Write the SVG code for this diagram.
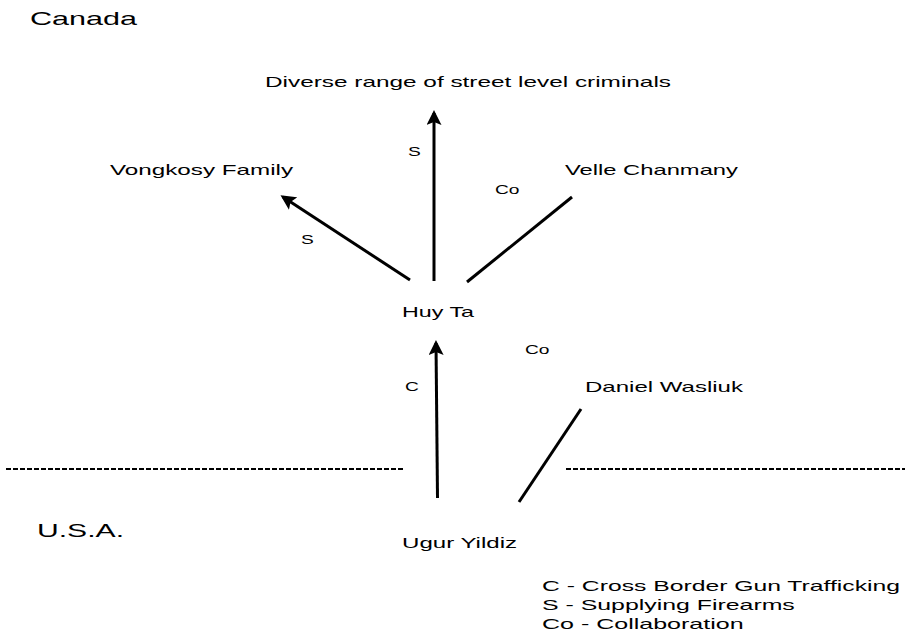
<svg xmlns="http://www.w3.org/2000/svg" width="907" height="637" viewBox="0 0 907 637">
<style>
text{font-family:"Liberation Sans",Arial,sans-serif;fill:#000}
.n{font-size:15px}
.r{font-size:19px}
.l{font-size:12px}
.e{stroke:#000;stroke-width:3;fill:none}
.d{stroke:#000;stroke-width:2;stroke-dasharray:5 2;fill:none}
</style>
<defs>
<marker id="ah" viewBox="0 0 10 10" refX="8" refY="5" markerWidth="5" markerHeight="5" markerUnits="strokeWidth" orient="auto">
<path d="M0,0 L10,5 L0,10 L2,5 Z" fill="#000"/>
</marker>
</defs>
<rect width="907" height="637" fill="#fff"/>
<g id="regions">
<text class="r" transform="translate(30,25) scale(1.6,1)" textLength="66.9" lengthAdjust="spacingAndGlyphs">Canada</text>
<text class="r" transform="translate(37,537) scale(1.6,1)" textLength="54.4" lengthAdjust="spacingAndGlyphs">U.S.A.</text>
<line class="d" x1="6" y1="469" x2="405" y2="469"/>
<line class="d" x1="566" y1="469" x2="905" y2="469"/>
</g>
<g id="connectors">
<line class="e" x1="434" y1="281" x2="434" y2="113" marker-end="url(#ah)"/>
<line class="e" x1="410" y1="280" x2="283" y2="197" marker-end="url(#ah)"/>
<line class="e" x1="467" y1="282" x2="572" y2="197"/>
<line class="e" x1="437.5" y1="498" x2="436" y2="343" marker-end="url(#ah)"/>
<line class="e" x1="519" y1="502" x2="581" y2="409"/>
<text class="l" transform="translate(408,156) scale(1.6,1)">S</text>
<text class="l" transform="translate(495,194) scale(1.6,1)">Co</text>
<text class="l" transform="translate(301,244) scale(1.6,1)">S</text>
<text class="l" transform="translate(525,354) scale(1.6,1)">Co</text>
<text class="l" transform="translate(405,391) scale(1.6,1)">C</text>
</g>
<g id="node-diverse"><text class="n" transform="translate(265,87) scale(1.6,1)" textLength="253.75" lengthAdjust="spacingAndGlyphs">Diverse range of street level criminals</text></g>
<g id="node-vongkosy"><text class="n" transform="translate(110,175) scale(1.6,1)" textLength="114.4" lengthAdjust="spacingAndGlyphs">Vongkosy Family</text></g>
<g id="node-velle"><text class="n" transform="translate(565,175) scale(1.6,1)" textLength="108.1" lengthAdjust="spacingAndGlyphs">Velle Chanmany</text></g>
<g id="node-huy"><text class="n" transform="translate(402,317) scale(1.6,1)" textLength="45" lengthAdjust="spacingAndGlyphs">Huy Ta</text></g>
<g id="node-daniel"><text class="n" transform="translate(585,392) scale(1.6,1)" textLength="98.75" lengthAdjust="spacingAndGlyphs">Daniel Wasliuk</text></g>
<g id="node-ugur"><text class="n" transform="translate(402,548) scale(1.6,1)" textLength="71.9" lengthAdjust="spacingAndGlyphs">Ugur Yildiz</text></g>
<g id="legend">
<text class="n" transform="translate(542,591) scale(1.6,1)" textLength="223.75" lengthAdjust="spacingAndGlyphs">C - Cross Border Gun Trafficking</text>
<text class="n" transform="translate(542,610) scale(1.6,1)" textLength="158" lengthAdjust="spacingAndGlyphs">S - Supplying Firearms</text>
<text class="n" transform="translate(542,629) scale(1.6,1)" textLength="126" lengthAdjust="spacingAndGlyphs">Co - Collaboration</text>
</g>
</svg>
